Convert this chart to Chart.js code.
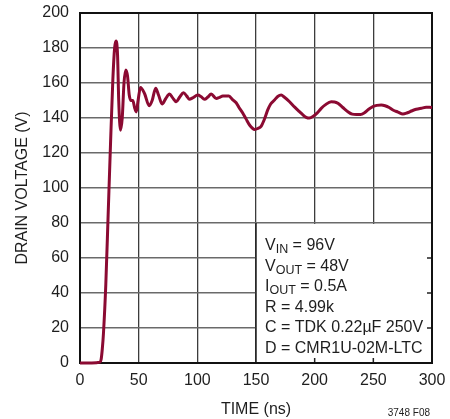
<!DOCTYPE html>
<html><head><meta charset="utf-8">
<script src="https://cdn.jsdelivr.net/npm/chart.js@4"></script>
<style>html,body{margin:0;padding:0;background:#fff}</style>
</head><body>
<canvas id="c" width="450" height="419"></canvas>
<script>
const timeNs = [0,10,17,18,19,20,22,24,26,28,29.5,30.7,32,33,34.5,36,37.5,39,40.5,42,43.5,45,46.5,48,49.5,51.5,55,59,61.5,64.5,67,70,73,76.3,79,82,85,88.2,91,93.3,96,100.4,103,106.1,109,111.8,116.1,119,121.7,126.9,130,133.1,135.5,138.8,141.5,144.5,148.8,151.5,154.5,157,160,162.5,165.8,168.5,171.5,174,178.6,183,187.1,190,192.8,195.5,198.5,202,205.6,209,214.1,217,219.8,224,228.3,232,235.5,239,242.5,246,249.6,253,256.8,260,263.5,266.7,271,275.2,279,282.5,286.6,291,295,298,300];
const drainV = [0,0,0.5,2,8,17,45,85,125,162,180,184,176,150,133,140,160,167.5,164,153,150,150,146,143.5,150,157.5,154,147,150,157,153,148,151,153.7,151.5,149.3,152,154.5,152.5,150.7,151.5,153.1,152.3,150.7,152,153.7,151.2,151.8,152.6,152.6,150.5,148.7,146,142.7,139.5,136,133.5,134,135.4,139,144.6,148,150.3,152.3,153.1,152,149.3,146.2,143.6,141.8,140.4,140,140.8,142.8,145.5,147.5,149.3,149.2,148.4,146,143.6,142.2,142,142,143,145,146.5,147.2,147.4,147,146,144.6,143.4,142.3,143,144,145,145.6,146.1,146.1,146];
const xTicks = [0,50,100,150,200,250,300];
const yTicks = [0,20,40,60,80,100,120,140,160,180,200];
const xTitle = 'TIME (ns)';
const yTitle = 'DRAIN VOLTAGE (V)';
const noteMain = ['V','V','I','R = 4.99k','C = TDK 0.22µF 250V','D = CMR1U-02M-LTC'];
const noteSub  = ['IN','OUT','OUT','','',''];
const noteRest = [' = 96V',' = 48V',' = 0.5A','','',''];
const figId = '3748 F08';

const FONT = 'Liberation Sans, Arial, sans-serif';
const TXT = '#1e1e1e';
const LINE = '#8b0a32';

const overlay = {
  id: 'overlay',
  beforeDatasetsDraw(chart) {
    const {ctx, chartArea: a, scales: {x, y}} = chart;
    const x0 = x.getPixelForValue(150), x1 = x.getPixelForValue(300);
    const y0 = y.getPixelForValue(80), y1 = y.getPixelForValue(0);
    ctx.save();
    ctx.fillStyle = '#fff';
    ctx.fillRect(x0, y0 + 1, x1 - x0, y1 - y0 - 1);
    ctx.strokeStyle = '#222';
    ctx.lineWidth = 1.5;
    ctx.beginPath();
    ctx.moveTo(x0, y0); ctx.lineTo(x0, y1);
    [200, 250].forEach(v => { const p = x.getPixelForValue(v); ctx.moveTo(p, y1); ctx.lineTo(p, y1 - 5); });
    [20, 40, 60].forEach(v => { const p = y.getPixelForValue(v); ctx.moveTo(x1, p); ctx.lineTo(x1 - 5, p); });
    ctx.stroke();
    ctx.strokeStyle = '#111';
    ctx.lineWidth = 2;
    ctx.strokeRect(a.left, a.top, a.right - a.left, a.bottom - a.top);
    ctx.restore();
  },
  afterDraw(chart) {
    const {ctx, scales: {x, y}} = chart;
    const tx = x.getPixelForValue(150) + 9;
    const base = y.getPixelForValue(80) + 27;
    ctx.save();
    ctx.fillStyle = TXT;
    ctx.textBaseline = 'alphabetic';
    ctx.textAlign = 'left';
    for (let i = 0; i < noteMain.length; i++) {
      const by = base + i * 20.5;
      let cx = tx;
      ctx.font = '16px ' + FONT;
      ctx.fillText(noteMain[i], cx, by);
      cx += ctx.measureText(noteMain[i]).width;
      if (noteSub[i]) {
        ctx.font = '12.5px ' + FONT;
        ctx.fillText(noteSub[i], cx, by + 3);
        cx += ctx.measureText(noteSub[i]).width;
      }
      if (noteRest[i]) {
        ctx.font = '16px ' + FONT;
        ctx.fillText(noteRest[i], cx, by);
      }
    }
    ctx.font = '10px ' + FONT;
    ctx.textAlign = 'right';
    ctx.fillText(figId, 430, 416);
    ctx.restore();
  }
};

new Chart(document.getElementById('c'), {
  type: 'scatter',
  data: {
    datasets: [{
      data: timeNs.map((t, i) => ({x: t, y: drainV[i]})),
      showLine: true,
      borderColor: LINE,
      backgroundColor: LINE,
      borderWidth: 3,
      pointRadius: 0,
      tension: 0.35,
      cubicInterpolationMode: 'monotone',
      clip: false
    }]
  },
  options: {
    responsive: false,
    animation: false,
    devicePixelRatio: 1,
    layout: {padding: {top: 13, right: 18, left: 0, bottom: 0}},
    plugins: {legend: {display: false}, tooltip: {enabled: false}},
    scales: {
      x: {
        type: 'linear', min: 0, max: 300,
        afterBuildTicks: s => { s.ticks = xTicks.map(v => ({value: v})); },
        afterFit: s => { s.height = 56; s.paddingLeft = 0; s.paddingRight = 0; },
        ticks: {font: {size: 16, family: FONT}, color: TXT, padding: 8, maxRotation: 0},
        grid: {color: '#3c3c3c', lineWidth: 1.3, drawTicks: false},
        border: {display: false},
        title: {display: true, text: xTitle, font: {size: 16, family: FONT}, color: TXT, padding: {top: 0, bottom: 0}}
      },
      y: {
        type: 'linear', min: 0, max: 200,
        afterBuildTicks: s => { s.ticks = yTicks.map(v => ({value: v})); },
        afterFit: s => { s.width = 80; s.paddingTop = 0; s.paddingBottom = 0; },
        ticks: {font: {size: 16, family: FONT}, color: TXT, padding: 11},
        grid: {color: '#6a6a6a', lineWidth: 1.5, drawTicks: false},
        border: {display: false},
        title: {display: true, text: yTitle, font: {size: 16, family: FONT}, color: TXT, padding: {top: 13, bottom: 0}}
      }
    }
  },
  plugins: [overlay]
});
</script>
</body></html>
